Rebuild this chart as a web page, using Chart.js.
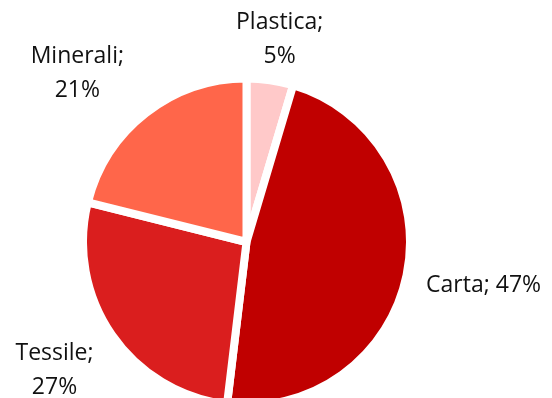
<!DOCTYPE html>
<html>
<head>
<meta charset="utf-8">
<script src="https://cdn.jsdelivr.net/npm/chart.js@4/dist/chart.umd.min.js"></script>
<style>
  html, body { margin: 0; padding: 0; background: #ffffff; overflow: hidden; }
  #wrap { position: relative; width: 552px; height: 398px; }
</style>
</head>
<body>
<div id="wrap"><canvas id="c"></canvas></div>
<script>
const categories = ["Plastica", "Carta", "Tessile", "Minerali"];
const values = [4.6, 47.3, 27.0, 21.1];
const percentLabels = ["5%", "47%", "27%", "21%"];
const colors = ["#FFC9C9", "#C00000", "#DA1E1E", "#FF664A"];

// label text blocks (line breaks as in the reference)
const labelLines = [
  [categories[0] + ";", percentLabels[0]],
  [categories[1] + "; " + percentLabels[1]],
  [categories[2] + ";", percentLabels[2]],
  [categories[3] + ";", percentLabels[3]]
];

const outsideLabels = {
  id: "outsideLabels",
  afterDatasetsDraw(chart, args, opts) {
    const ctx = chart.ctx;
    const meta = chart.getDatasetMeta(0);
    ctx.save();
    ctx.font = opts.font;
    ctx.fillStyle = opts.color;
    ctx.textAlign = "center";
    ctx.textBaseline = "middle";
    meta.data.forEach((arc, i) => {
      const p = arc.getProps(["x", "y", "startAngle", "endAngle", "outerRadius"], true);
      const mid = (p.startAngle + p.endAngle) / 2;
      const dx = Math.cos(mid), dy = Math.sin(mid);
      const lines = labelLines[i];
      const w = Math.max(...lines.map(l => ctx.measureText(l).width));
      const h = lines.length * opts.lineHeight;
      const r = p.outerRadius - opts.border / 2 + opts.distance;
      const nudge = opts.nudges[i];
      const cx = p.x + dx * r + dx * w / 2 + nudge[0];
      const cy = p.y + dy * r + dy * h / 2 + nudge[1];
      lines.forEach((l, k) => {
        const ly = cy - h / 2 + opts.lineHeight * (k + 0.5);
        ctx.fillText(l, cx, ly);
      });
    });
    ctx.restore();
  }
};

new Chart(document.getElementById("c"), {
  type: "pie",
  data: {
    labels: categories,
    datasets: [{
      data: values,
      backgroundColor: colors,
      borderColor: "#ffffff",
      borderWidth: 8,
      radius: 163.5,
      clip: false
    }]
  },
  options: {
    responsive: true,
    maintainAspectRatio: false,
    animation: false,
    layout: { padding: { top: 86, left: 0, right: 59, bottom: 0 } },
    plugins: {
      legend: { display: false },
      tooltip: { enabled: false },
      outsideLabels: {
        font: "23px 'Open Sans'",
        color: "#111111",
        lineHeight: 34,
        border: 8,
        distance: 20,
        nudges: [[1, 9], [5, 4], [-12, 7], [-30, 0]]
      }
    }
  },
  plugins: [outsideLabels]
});
</script>
</body>
</html>
